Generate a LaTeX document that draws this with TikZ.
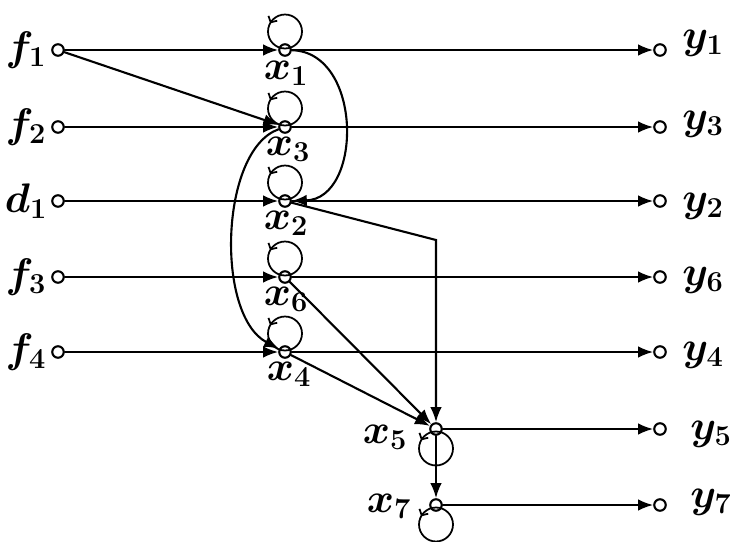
\RequirePackage{fix-cm}
\documentclass[tikz,border=0pt]{standalone}
\usepackage{bm}
\usetikzlibrary{arrows.meta,decorations.markings}

\tikzset{
  port/.style={circle,draw,fill=white,inner sep=0pt,minimum size=0.23cm},
  sig/.style={-{Latex[length=0.3cm,width=0.23cm]}},
  selfloop/.style={postaction={decorate},
    decoration={markings,mark=at position 0.42 with {\arrow{Straight Barb[length=0.09cm,width=0.2cm]}}}}
}

\begin{document}
\begin{tikzpicture}[x=0.02cm, y=-0.02cm, line width=1.2pt, line cap=round,
    every node/.style={font=\fontsize{23.5}{28}\selectfont}]
  \useasboundingbox (0,0) rectangle (730,541);

  % inputs, states, outputs
  \foreach \n/\px/\py in {f1/58/50,f2/58/127,d1/58/201,f3/58/277,f4/58/352,
      x1/285/50,x3/285/127,x2/285/201,x6/285/277,x4/285/352,x5/436/429,x7/436/505,
      y1/660/50,y3/660/127,y2/660/201,y6/660/277,y4/660/352,y5/660/429,y7/660/505}
    \node[port] (\n) at (\px,\py) {};

  % labels
  \foreach \n/\px/\py/\lab in {lf1/26/50/f_1,lf2/26/127/f_2,ld1/26/201/d_1,lf3/26/277/f_3,lf4/26/352/f_4,
      lx1/286/73/x_1,lx3/288/149/x_3,lx2/286/223/x_2,lx6/286/299/x_6,lx4/289/374/x_4,
      lx5/385/437/x_5,lx7/389/506/x_7,
      ly1/703/43/y_1,ly3/703/124/y_3,ly2/703/206/y_2,ly6/703/280/y_6,ly4/703/355/y_4,
      ly5/711/434/y_5,ly7/711/502/y_7}
    \node[inner sep=0pt] (\n) at (\px,\py) {$\bm{\lab}$};

  % self loops
  \foreach \p in {x1,x3,x2,x6,x4}
    \draw[selfloop,line width=1pt] ([yshift=0.37cm]\p.center) circle[radius=0.34cm];
  \foreach \p in {x5,x7}
    \draw[selfloop,line width=1pt] ([yshift=-0.39cm]\p.center) circle[radius=0.34cm];

  % branches
  \foreach \a/\b in {f1/x1,f2/x3,d1/x2,f3/x6,f4/x4,f1/x3,x6/x5,x4/x5,x5/x7,
      x1/y1,x3/y3,x2/y2,x6/y6,x4/y4,x5/y5,x7/y7}
    \draw[sig] (\a) -- (\b);
  \draw[sig] (x1) .. controls (363,52) and (363,199) .. (x2);
  \draw[sig] (x3) .. controls (220,150) and (215,315) .. (x4);
  \coordinate (bend) at (436,240);
  \draw[sig] (x2) -- (bend) -- (x5);
\end{tikzpicture}
\end{document}
